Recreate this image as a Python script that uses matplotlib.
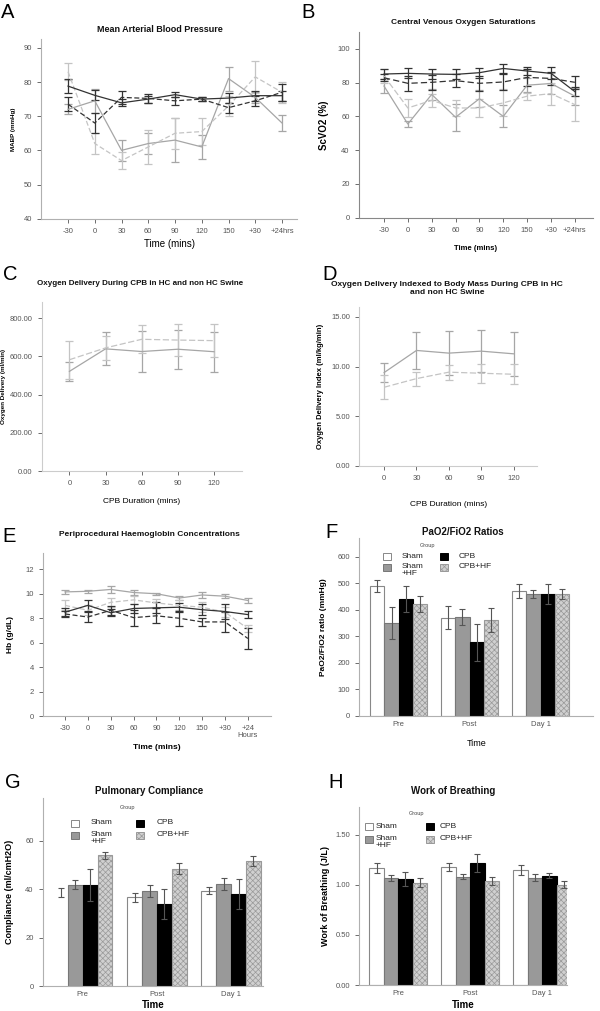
import matplotlib
matplotlib.use("Agg")
import matplotlib.pyplot as plt
from matplotlib.patches import Rectangle
import numpy as np

plt.rcParams['font.family'] = ['Liberation Sans', 'DejaVu Sans']
plt.rcParams['hatch.linewidth'] = 0.5

W, H = 600, 1011

time_labels = ["-30", "0", "30", "60", "90", "120", "150", "+30", "+24hrs"]
hb_labels = ["-30", "0", "30", "60", "90", "120", "150", "+30", "+24\nHours"]
cpb_times = [0, 30, 60, 90, 120]
groups = ["Pre", "Post", "Day 1"]
group_names = ["Sham", "Sham\n+HF", "CPB", "CPB+HF"]

# A - mean arterial blood pressure (mmHg)
mabp_dark_solid = [78.8, 76.1, 73.9, 75.0, 76.3, 75.0, 75.3, 76.0, 76.0]
mabp_dark_solid_err = [2.0, 1.5, 1.0, 1.0, 0.8, 0.6, 1.5, 1.5, 1.5]
mabp_dark_dash = [73.5, 68.0, 75.5, 75.2, 74.5, 75.0, 72.5, 74.5, 77.0]
mabp_dark_dash_err = [2.0, 2.8, 2.0, 1.2, 1.2, 0.7, 1.5, 1.5, 2.5]
mabp_light_solid = [72.0, 74.5, 60.0, 62.0, 63.0, 61.0, 81.0, 75.5, 68.0]
mabp_light_solid_err = [1.5, 3.5, 3.0, 3.0, 6.5, 3.5, 3.5, 1.5, 2.3]
mabp_light_dash = [83.0, 62.0, 57.0, 61.0, 65.0, 65.5, 73.0, 81.5, 77.0]
mabp_light_dash_err = [2.5, 3.0, 2.5, 5.0, 4.5, 4.0, 3.0, 4.7, 3.0]

# B - central venous oxygen saturation (%)
scvo2_dark_solid = [85.1, 85.5, 85.1, 84.9, 85.9, 88.4, 86.9, 85.5, 74.7]
scvo2_dark_solid_err = [3.0, 3.0, 3.0, 3.0, 3.0, 2.5, 2.5, 3.5, 2.5]
scvo2_dark_dash = [82.9, 79.6, 80.2, 81.2, 79.6, 80.4, 83.1, 82.5, 80.2]
scvo2_dark_dash_err = [2.0, 4.5, 4.5, 4.0, 4.5, 5.0, 5.0, 4.0, 4.0]
scvo2_light_solid = [78.0, 55.5, 73.0, 59.5, 70.5, 60.0, 78.5, 79.5, 72.0]
scvo2_light_solid_err = [4.0, 1.5, 3.0, 8.0, 5.0, 6.5, 4.0, 6.0, 5.0]
scvo2_light_dash = [84.0, 65.0, 69.5, 65.0, 65.0, 68.0, 72.0, 73.5, 67.0]
scvo2_light_dash_err = [4.0, 5.5, 4.0, 4.5, 5.5, 8.0, 2.0, 6.5, 10.0]

# C - oxygen delivery (ml/min)
do2_solid = [522, 640, 626, 638, 625]
do2_solid_err = [48, 87, 107, 103, 105]
do2_dash = [583, 645, 690, 686, 683]
do2_dash_err = [100, 62, 73, 86, 87]

# D - oxygen delivery index (ml/kg/min)
do2i_solid = [9.39, 11.62, 11.35, 11.55, 11.28]
do2i_solid_err = [1.0, 1.86, 2.2, 2.15, 2.22]
do2i_dash = [7.91, 8.78, 9.43, 9.32, 9.22]
do2i_dash_err = [1.2, 0.7, 0.77, 0.95, 1.0]

# E - haemoglobin (g/dL)
hb_light_solid = [10.15, 10.2, 10.35, 10.1, 10.0, 9.65, 9.9, 9.8, 9.45]
hb_light_solid_err = [0.15, 0.1, 0.25, 0.2, 0.1, 0.15, 0.25, 0.15, 0.2]
hb_light_dash = [9.05, 8.65, 9.3, 9.5, 9.25, 9.05, 8.9, 8.5, 7.15]
hb_light_dash_err = [0.4, 0.4, 0.35, 0.3, 0.35, 0.4, 0.4, 0.4, 0.3]
hb_dark_solid = [8.5, 9.05, 8.45, 8.8, 8.85, 8.9, 8.7, 8.55, 8.3]
hb_dark_solid_err = [0.35, 0.45, 0.3, 0.4, 0.45, 0.35, 0.45, 0.65, 0.3]
hb_dark_dash = [8.35, 8.1, 8.65, 8.05, 8.2, 8.0, 7.7, 7.7, 6.35]
hb_dark_dash_err = [0.25, 0.4, 0.35, 0.65, 0.6, 0.6, 0.35, 0.8, 0.85]

# F - PaO2/FiO2 (mmHg), rows = Sham, Sham+HF, CPB, CPB+HF
pf_vals = [[490, 370, 472], [350, 372, 460], [440, 277, 460], [420, 360, 460]]
pf_err = [[22, 44, 26], [60, 29, 15], [50, 70, 38], [30, 45, 19]]

# G - compliance (ml/cmH2O)
comp_vals = [[38.7, 36.7, 39.5], [42.0, 39.3, 42.2], [41.8, 33.8, 38.2], [54.0, 48.5, 51.8]]
comp_err = [[1.7, 1.7, 1.5], [2.0, 2.4, 2.3], [6.7, 6.2, 6.2], [1.3, 2.3, 2.1]]

# H - work of breathing (J/L)
wob_vals = [[1.17, 1.18, 1.15], [1.07, 1.08, 1.07], [1.06, 1.22, 1.09], [1.02, 1.04, 1.00]]
wob_err = [[0.05, 0.04, 0.05], [0.03, 0.025, 0.035], [0.07, 0.09, 0.025], [0.045, 0.04, 0.035]]

DARK = "#333333"
LIGHT1 = "#a6a6a6"
LIGHT2 = "#c4c4c4"
TICKC = "#555555"
SPINEC = "#b0b0b0"

fig = plt.figure(figsize=(W / 100, H / 100), dpi=100)


def box(l, t, r, b):
    return [l / W, 1 - b / H, (r - l) / W, (b - t) / H]


def ftext(x, y, s, **kw):
    fig.text(x / W, 1 - y / H, s, **kw)


def style(ax, spinec=SPINEC):
    for s in ["top", "right"]:
        ax.spines[s].set_visible(False)
    for s in ["left", "bottom"]:
        ax.spines[s].set_color(spinec)
        ax.spines[s].set_linewidth(0.8)
    ax.tick_params(colors=TICKC, labelsize=5.5, length=3, width=0.6, direction="out")


def eline(ax, x, y, e, color, ls, dashes=None, lw=0.9):
    kw = dict(color=color, lw=lw, elinewidth=lw, capsize=3, capthick=lw)
    cont = ax.errorbar(x, y, yerr=e, ls=ls, **kw)
    if dashes is not None:
        cont[0].set_dashes(dashes)


def title(x, y, s, size=6.5):
    ftext(x, y, s, ha="center", va="center", fontsize=size, fontweight="bold", color="#111111")


def letter(x, y, s):
    ftext(x, y, s, ha="left", va="center", fontsize=14.5, color="black")


# ---------- A ----------
ax = fig.add_axes(box(41.3, 39.3, 297, 218.7))
idx = np.arange(len(time_labels))
eline(ax, idx, mabp_light_solid, mabp_light_solid_err, LIGHT1, "-")
eline(ax, idx, mabp_light_dash, mabp_light_dash_err, LIGHT2, "--", (4, 2))
eline(ax, idx, mabp_dark_solid, mabp_dark_solid_err, DARK, "-")
eline(ax, idx, mabp_dark_dash, mabp_dark_dash_err, DARK, "--", (4, 2))
ax.set_xlim(-1, 8.56)
ax.set_ylim(40, 92.5)
ax.set_yticks([40, 50, 60, 70, 80, 90])
ax.set_xticks(idx)
ax.set_xticklabels(time_labels)
style(ax)
ax.set_ylabel("MABP (mmHg)", fontsize=4.5, fontweight="bold", labelpad=6)
ax.set_xlabel("Time (mins)", fontsize=7, labelpad=3)
title(160, 29, "Mean Arterial Blood Pressure")
letter(1, 12, "A")

# ---------- B ----------
ax = fig.add_axes(box(358.7, 32, 593, 217.7))
eline(ax, idx, scvo2_light_solid, scvo2_light_solid_err, LIGHT1, "-")
eline(ax, idx, scvo2_light_dash, scvo2_light_dash_err, LIGHT2, "--", (5, 2))
eline(ax, idx, scvo2_dark_solid, scvo2_dark_solid_err, DARK, "-")
eline(ax, idx, scvo2_dark_dash, scvo2_dark_dash_err, DARK, "--", (5, 2.5))
ax.set_xlim(-1.06, 8.76)
ax.set_ylim(0, 110)
ax.set_yticks([0, 20, 40, 60, 80, 100])
ax.set_xticks(idx)
ax.set_xticklabels(time_labels)
style(ax, "#888888")
ax.set_ylabel("ScVO2 (%)", fontsize=7, fontweight="bold", labelpad=6)
ax.set_xlabel("Time (mins)", fontsize=5.5, fontweight="bold", labelpad=8)
title(463, 23, "Central Venous Oxygen Saturations", 6)
letter(301, 12, "B")

# ---------- C ----------
ax = fig.add_axes(box(41.7, 301.7, 241.7, 471))
eline(ax, cpb_times, do2_solid, do2_solid_err, LIGHT1, "-")
eline(ax, cpb_times, do2_dash, do2_dash_err, LIGHT2, "--", (5, 2))
ax.set_xlim(-23, 143)
ax.set_ylim(0, 887)
ax.set_yticks([0, 200, 400, 600, 800])
ax.set_yticklabels(["0.00", "200.00", "400.00", "600.00", "800.00"])
ax.set_xticks(cpb_times)
style(ax, "#cccccc")
ax.set_ylabel("Oxygen Delivery (ml/min)", fontsize=4.5, fontweight="bold", labelpad=3)
ax.set_xlabel("CPB Duration (mins)", fontsize=6, labelpad=8)
title(140, 283, "Oxygen Delivery During CPB in HC and non HC Swine", 5.8)
letter(3, 274, "C")

# ---------- D ----------
ax = fig.add_axes(box(359.3, 307, 537.3, 465.7))
eline(ax, cpb_times, do2i_solid, do2i_solid_err, LIGHT1, "-")
eline(ax, cpb_times, do2i_dash, do2i_dash_err, LIGHT2, "--", (5, 2))
ax.set_xlim(-23, 142)
ax.set_ylim(0, 16)
ax.set_yticks([0, 5, 10, 15])
ax.set_yticklabels(["0.00", "5.00", "10.00", "15.00"])
ax.set_xticks(cpb_times)
style(ax, "#cccccc")
ax.set_ylabel("Oxygen Delivery Index (ml/kg/min)", fontsize=5.5, fontweight="bold", labelpad=5)
ax.set_xlabel("CPB Duration (mins)", fontsize=6, labelpad=14)
title(447, 288, "Oxygen Delivery Indexed to Body Mass During CPB in HC\nand non HC Swine", 6)
letter(322, 274, "D")

# ---------- E ----------
ax = fig.add_axes(box(42.7, 553.3, 270.7, 716.3))
eline(ax, idx, hb_light_solid, hb_light_solid_err, LIGHT1, "-")
eline(ax, idx, hb_light_dash, hb_light_dash_err, LIGHT2, "--", (4, 2))
eline(ax, idx, hb_dark_solid, hb_dark_solid_err, DARK, "-")
eline(ax, idx, hb_dark_dash, hb_dark_dash_err, DARK, "--", (4, 2))
ax.set_xlim(-0.98, 9.0)
ax.set_ylim(0, 13.3)
ax.set_yticks([0, 2, 4, 6, 8, 10, 12])
ax.set_xticks(idx)
ax.set_xticklabels(hb_labels, linespacing=0.9)
style(ax)
ax.set_ylabel("Hb (g/dL)", fontsize=6, fontweight="bold", labelpad=8)
ax.set_xlabel("Time (mins)", fontsize=6, fontweight="bold", labelpad=4)
title(149, 534, "Periprocedural Haemoglobin Concentrations", 6)
letter(2, 536, "E")


# ---------- bar panels ----------
BAR_FC = ["white", "#999999", "black", "#d0d0d0"]
BAR_EC = ["#888888", "#777777", "black", "#999999"]
BAR_HATCH = [None, None, None, "xxxxxx"]


def bars(ax, vals, errs, width=0.2, hide=None):
    gx = np.arange(len(groups))
    for j in range(len(vals)):
        x = gx + (j - 1.5) * width
        for i in range(len(groups)):
            ec = BAR_EC[j]
            if hide is not None and (j, i) == hide:
                ec = "none"
            ax.bar(x[i], vals[j][i], width, color=BAR_FC[j], edgecolor=ec,
                   hatch=BAR_HATCH[j], linewidth=0.8, zorder=2)
        ax.errorbar(x, vals[j], yerr=errs[j], fmt="none", ecolor="#555555",
                    elinewidth=0.8, capsize=2, capthick=0.8, zorder=3)
    ax.set_xticks(gx)
    ax.set_xticklabels(groups, fontsize=6)
    style(ax)
    ax.tick_params(axis="x", length=0)


def legend(gx, gy, bx1, bx2, by1, by2, tx1, tx2, size=6):
    ftext(gx, gy, "Group", fontsize=4, color="#444444", ha="center", va="center")
    pos = [(bx1, by1, tx1), (bx1, by2, tx1), (bx2, by1, tx2), (bx2, by2, tx2)]
    for j, (bx, by, tx) in enumerate(pos):
        r = Rectangle(((bx - 4) / W, 1 - (by + 3.5) / H), 8 / W, 7 / H,
                      transform=fig.transFigure, facecolor=BAR_FC[j],
                      edgecolor=BAR_EC[j], hatch=BAR_HATCH[j], linewidth=0.7)
        fig.add_artist(r)
        ftext(tx, by - 4 if j == 1 else by, group_names[j], fontsize=size, color="#222222",
              ha="left", va="top" if j == 1 else "center", linespacing=1.0)


# ---------- F ----------
ax = fig.add_axes(box(359.3, 538.3, 593, 716))
bars(ax, pf_vals, pf_err)
ax.set_xlim(-0.555, 2.74)
ax.set_ylim(0, 669)
ax.set_yticks([0, 100, 200, 300, 400, 500, 600])
ax.set_ylabel("PaO2/FiO2 ratio (mmHg)", fontsize=6, fontweight="bold", labelpad=8)
ax.set_xlabel("Time", fontsize=6.5, labelpad=8)
title(463, 532, "PaO2/FiO2 Ratios", 7)
letter(325, 533, "F")
legend(428, 545, 387, 444, 556, 567, 401.7, 458.3)

# ---------- G ----------
ax = fig.add_axes(box(42.7, 798.3, 263, 986.3))
bars(ax, comp_vals, comp_err, hide=(0, 0))
ax.set_xlim(-0.54, 2.43)
ax.set_ylim(0, 77.6)
ax.set_yticks([0, 20, 40, 60])
ax.set_ylabel("Compliance (ml/cmH2O)", fontsize=6.5, fontweight="bold", labelpad=8)
ax.set_xlabel("Time", fontsize=7, fontweight="bold", labelpad=1)
title(149, 791, "Pulmonary Compliance", 7)
letter(5, 783, "G")
legend(128, 808, 75, 140, 823, 835, 90.7, 156.7)

# ---------- H ----------
ax = fig.add_axes(box(359.3, 806.7, 566.7, 985))
bars(ax, wob_vals, wob_err)
ax.set_xlim(-0.54, 2.34)
ax.set_ylim(0, 1.78)
ax.set_yticks([0, 0.5, 1.0, 1.5])
ax.set_yticklabels(["0.00", "0.50", "1.00", "1.50"])
ax.set_ylabel("Work of Breathing (J/L)", fontsize=6.5, fontweight="bold", labelpad=4)
ax.set_xlabel("Time", fontsize=7, fontweight="bold", labelpad=2)
title(453, 791, "Work of Breathing", 7)
letter(328, 783, "H")
legend(416.7, 814, 369.3, 430, 826.7, 839, 376, 440)

fig.savefig("out.png", dpi=100)
